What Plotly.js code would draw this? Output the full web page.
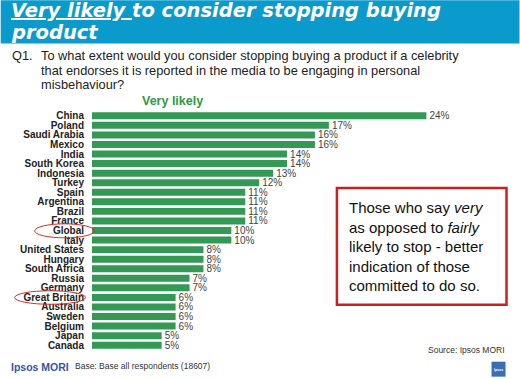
<!DOCTYPE html>
<html><head><meta charset="utf-8">
<script src="https://cdn.plot.ly/plotly-3.0.1.min.js"></script>
<style>html,body{margin:0;padding:0;background:#fff}#chart{width:520px;height:379px}</style>
</head><body><div id="chart"></div>
<script>
const countries = ["China","Poland","Saudi Arabia","Mexico","India","South Korea","Indonesia","Turkey","Spain","Argentina","Brazil","France","Global","Italy","United States","Hungary","South Africa","Russia","Germany","Great Britain","Australia","Sweden","Belgium","Japan","Canada"];
const veryLikely = [24,17,16,16,14,14,13,12,11,11,11,11,10,10,8,8,8,7,7,6,6,6,6,5,5];
const valueLabels = veryLikely.map(v => v + "%");

const W = 520, H = 379;
const M = {l: 91.5, r: 9.5, t: 111, b: 28.7};
const pw = W - M.l - M.r, ph = H - M.t - M.b;
const px = x => (x - M.l) / pw;
const py = y => 1 - (y - M.t) / ph;

const sans = "Liberation Sans, Arial, sans-serif";

const trace = {
  type: "bar", orientation: "h",
  y: countries, x: veryLikely,
  text: valueLabels, textposition: "outside", cliponaxis: false, constraintext: "none",
  textfont: {family: sans, size: 10, color: "#444"},
  marker: {color: "#339955", line: {width: 0}},
  width: 0.73, hoverinfo: "none"
};

const shapes = [
  {type: "rect", xref: "paper", yref: "paper", x0: px(0), x1: px(520), y0: py(0), y1: py(43.5), fillcolor: "#0a9bcc", line: {width: 0}, layer: "below"},
  {type: "circle", xref: "paper", yref: "paper", x0: px(34), x1: px(94), y0: py(224), y1: py(238), line: {color: "#d03030", width: 1}},
  {type: "circle", xref: "paper", yref: "paper", x0: px(14), x1: px(85), y0: py(291), y1: py(304.5), line: {color: "#d03030", width: 1}},
  {type: "rect", xref: "paper", yref: "paper", x0: px(337), x1: px(507), y0: py(188), y1: py(305), line: {color: "#cc2020", width: 2.5}, fillcolor: "#fff"},
  {type: "rect", xref: "paper", yref: "paper", x0: px(492), x1: px(506), y0: py(362), y1: py(377), fillcolor: "#3a6fb5", line: {width: 0}}
];

const ann = (x, y, text, opts) => Object.assign({xref: "paper", yref: "paper", x: px(x), y: py(y), text: text, showarrow: false, xanchor: "left", yanchor: "middle", font: {family: sans, size: 12, color: "#222"}}, opts || {});
const titleFont = {family: "DejaVu Sans, sans-serif", size: 19.5, color: "#fff"};
const qFont = {family: sans, size: 12.8, color: "#222"};

const annotations = [
  ann(8, 10.5, "<b><i><u>Very likely </u>to consider stopping buying</i></b>", {font: titleFont}),
  ann(8, 32.5, "<b><i>product</i></b>", {font: titleFont}),
  ann(9, 55.5, "Q1.", {font: qFont}),
  ann(38, 55.5, "To what extent would you consider stopping buying a product if a celebrity", {font: qFont}),
  ann(38, 70, "that endorses it is reported in the media to be engaging in personal", {font: qFont}),
  ann(38, 84.5, "misbehaviour?", {font: qFont}),
  ann(140, 100.5, "<b>Very likely</b>", {font: {family: sans, size: 12.5, color: "#2e9a48"}}),
  ann(347, 247, "Those who say <i>very</i><br>as opposed to <i>fairly</i><br>likely to stop - better<br>indication of those<br>committed to do so.", {align: "left", font: {family: sans, size: 15, color: "#111"}}),
  ann(507, 350, "Source: Ipsos MORI", {xanchor: "right", font: {family: sans, size: 8.5, color: "#333"}}),
  ann(8, 367, "<b>Ipsos MORI</b>", {font: {family: sans, size: 10.5, color: "#3356a8"}}),
  ann(72, 366, "Base: Base all respondents (18607)", {font: {family: sans, size: 8.5, color: "#333"}}),
  ann(499, 370, "<b>Ipsos</b>", {xanchor: "center", font: {family: sans, size: 3.5, color: "#fff"}})
];

const layout = {
  width: W, height: H, margin: M,
  paper_bgcolor: "#fff", plot_bgcolor: "#fff",
  showlegend: false, bargap: 0.27,
  xaxis: {range: [0, 30], visible: false, fixedrange: true},
  yaxis: {type: "category", autorange: false, range: [24.5, -0.5], showgrid: false, zeroline: false, showline: false, ticks: "",
          tickmode: "array", tickvals: countries, ticktext: countries, ticklabelstandoff: 7,
          tickfont: {family: sans, size: 10, color: "#222", weight: "bold"}, fixedrange: true},
  shapes: shapes, annotations: annotations
};

Plotly.newPlot("chart", [trace], layout, {displayModeBar: false, staticPlot: true});
</script></body></html>
